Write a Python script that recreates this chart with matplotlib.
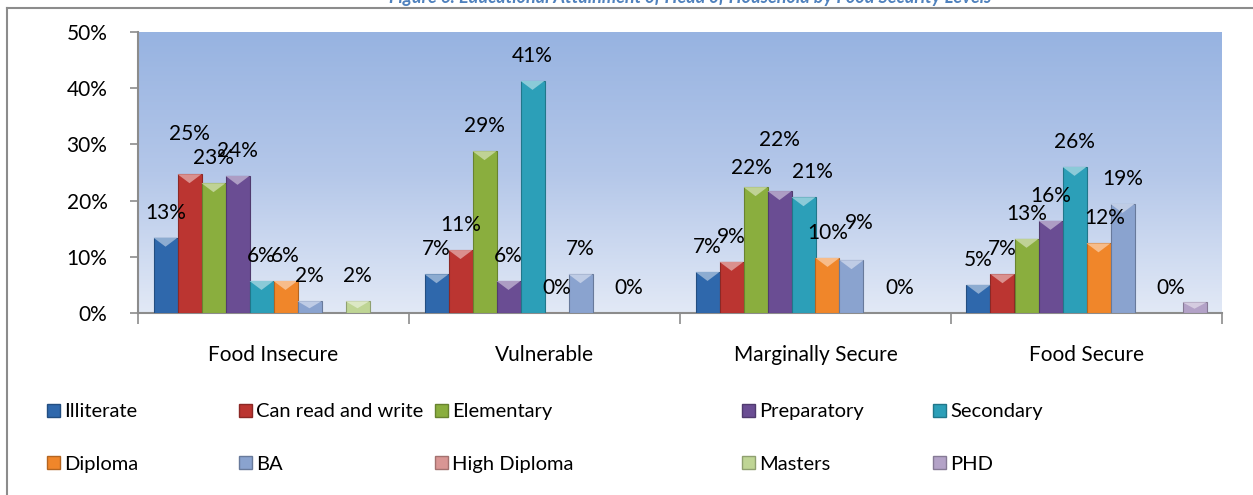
import numpy as np
import matplotlib
matplotlib.use("Agg")
import matplotlib.pyplot as plt
from matplotlib.colors import LinearSegmentedColormap, to_rgb
from matplotlib.patches import Rectangle, Polygon
from matplotlib.lines import Line2D

plt.rcParams["font.family"] = ["Lato", "DejaVu Sans"]

categories = ["Food Insecure", "Vulnerable", "Marginally Secure", "Food Secure"]
series = ["Illiterate", "Can read and write", "Elementary", "Preparatory", "Secondary",
          "Diploma", "BA", "High Diploma", "Masters", "PHD"]

illiterate = [0.134, 0.069, 0.073, 0.050]
can_read = [0.247, 0.112, 0.091, 0.069]
elementary = [0.231, 0.288, 0.224, 0.132]
preparatory = [0.244, 0.057, 0.217, 0.164]
secondary = [0.057, 0.413, 0.206, 0.260]
diploma = [0.057, 0.0, 0.098, 0.124]
ba = [0.021, 0.069, 0.094, 0.194]
high_diploma = [None, None, None, None]
masters = [0.021, 0.0, 0.0, 0.0]
phd = [None, None, None, 0.019]
values = [illiterate, can_read, elementary, preparatory, secondary,
          diploma, ba, high_diploma, masters, phd]

colors = ["#2F68AC", "#BB3531", "#8AAE3E", "#6A4D93", "#2C9FB8",
          "#F0862A", "#8AA3CF", "#D99694", "#BFD595", "#B3A2C7"]

# labels that are not shown / moved by hand (pixels: dx, dy up)
hidden = {("PHD", "Food Secure")}
moved = {("Can read and write", "Food Insecure"): (0, 15),
         ("Elementary", "Marginally Secure"): (-4, -6),
         ("Preparatory", "Marginally Secure"): (0, 26),
         ("Secondary", "Marginally Secure"): (9, 0),
         ("BA", "Marginally Secure"): (8, 12),
         ("Diploma", "Food Secure"): (6, 0)}

W, H = 1253, 495
fig = plt.figure(figsize=(W / 100, H / 100), dpi=100)

def px(x, y, w=0, h=0):
    return [x / W, 1 - (y + h) / H, w / W, h / H]

ax = fig.add_axes(px(138, 32, 1084, 281))

# gradient background
grad = LinearSegmentedColormap.from_list("bg", ["#E2E9F6", "#B4C7E9", "#97B3E1"])
ax.imshow(np.linspace(0, 1, 256).reshape(-1, 1), cmap=grad, origin="lower",
          extent=(-0.5, 3.5, 0, 0.5), aspect="auto", zorder=0)

n = len(series)
bw = 24 / 271
x = np.arange(len(categories))
px_per_unit = 281 / 0.5
fs = 15

for i, (name, vals, col) in enumerate(zip(series, values, colors)):
    pos = x - n * bw / 2 + (i + 0.5) * bw
    for p, v, cat in zip(pos, vals, categories):
        if v is None:
            continue
        dark = tuple(c * 0.75 for c in to_rgb(col))
        ax.bar(p, v, bw, color=col, edgecolor=dark, linewidth=0.8, zorder=3)
        if v > 0.01:
            light = tuple(min(1, c + (1 - c) * 0.45) for c in to_rgb(col))
            th = min(9 / px_per_unit, v * 0.6)
            ax.add_patch(Polygon([(p - bw / 2, v), (p + bw / 2, v), (p, v - th)],
                                 closed=True, color=light, zorder=4, lw=0))
        if (name, cat) in hidden:
            continue
        dx, dy = moved.get((name, cat), (0, 0))
        ax.annotate(f"{v:.0%}", (p, v), xytext=(dx * 0.72, (25 + dy) * 0.72),
                    textcoords="offset points", ha="center", va="center",
                    fontsize=fs, color="black", zorder=5)

ax.set_xlim(-0.5, 3.5)
ax.set_ylim(0, 0.5)
ax.set_yticks(np.arange(0, 0.51, 0.1))
ax.set_yticklabels([f"{t:.0%}" for t in np.arange(0, 0.51, 0.1)], fontsize=fs)
ax.set_xticks(x)
ax.set_xticklabels(categories, fontsize=fs)
ax.set_xticks(np.arange(-0.5, 4, 1), minor=True)
ax.tick_params(axis="x", which="major", length=0, pad=23)
ax.tick_params(axis="x", which="minor", length=8, color="#8C8C8C", width=1.2)
ax.tick_params(axis="y", length=6, color="#8C8C8C", width=1.2, pad=16)
for s in ["top", "right"]:
    ax.spines[s].set_visible(False)
for s in ["left", "bottom"]:
    ax.spines[s].set_color("#8C8C8C")
    ax.spines[s].set_linewidth(1.5)

# legend: five columns of two entries each
col_x = [47, 239, 435, 742, 933]
for c in range(5):
    idx = [c, c + 5]
    handles = [Rectangle((0, 0), 1, 1, facecolor=colors[k],
                         edgecolor=tuple(v * 0.75 for v in to_rgb(colors[k])))
               for k in idx]
    fig.legend(handles, [series[k] for k in idx], loc="center left",
               bbox_to_anchor=(col_x[c] / W, 1 - 438 / H), frameon=False,
               fontsize=14.5, handlelength=0.65, handleheight=0.65,
               handletextpad=0.2, labelspacing=1.75, borderpad=0,
               borderaxespad=0)

# chart frame and clipped title
fig.add_artist(Line2D([7 / W, 7 / W], [0, 1 - 8 / H], color="#8C8C8C", lw=1.5))
fig.add_artist(Line2D([7 / W, 1], [1 - 8 / H, 1 - 8 / H], color="#8C8C8C", lw=1.5))
fig.text(690 / W, 1 - 3 / H,
         "Figure 6: Educational Attainment of Head of Household by Food Security Levels",
         ha="center", va="baseline", fontsize=13, fontweight="bold", fontstyle="italic",
         color="#4F81BD")

fig.savefig("out.png", dpi=100)
